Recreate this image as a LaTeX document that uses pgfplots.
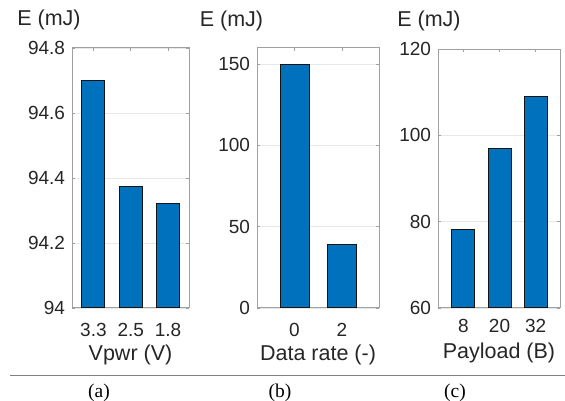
\documentclass[border=0pt]{standalone}
\usepackage{fontspec}
\setmainfont{Liberation Sans}
\newfontfamily\seriffont{Liberation Serif}
\usepackage{pgfplots}
\pgfplotsset{compat=1.18}
\definecolor{mblue}{RGB}{0,114,189}
\definecolor{axgray}{RGB}{160,160,160}
\definecolor{grdgray}{RGB}{232,232,232}
\definecolor{txt}{RGB}{38,38,38}
\pgfplotsset{
  myax/.style={
    scale only axis,
    anchor=south west,
    ybar,
    axis line style={axgray, line width=1bp},
    tick style={axgray, line width=0.8bp},
    major tick length=3bp,
    tick align=inside,
    ymajorgrids,
    grid style={grdgray, line width=0.8bp},
    xtick=data,
    /pgf/number format/assume math mode=true,
    tick label style={font=\fontsize{19bp}{22bp}\selectfont, text=txt},
    label style={font=\fontsize{21.5bp}{24bp}\selectfont, text=txt},
    yticklabel style={anchor=east, xshift=-3.5bp},
    xticklabel style={anchor=center, yshift=-22bp},
    xlabel style={at={(axis description cs:0.5,0)}, anchor=base, yshift=-52bp},
    scaled y ticks=false,
  },
  mybar/.style={fill=mblue, draw={rgb,255:red,20;green,20;blue,20}, line width=1bp}
}
\begin{document}
\begin{tikzpicture}
\useasboundingbox (0,0) rectangle (565bp,401bp);
% (a)
\begin{axis}[myax, at={(72bp,93bp)}, width=117bp, height=260bp,
  xmin=0.427, xmax=3.56, ymin=94, ymax=94.8,
  ytick={94,94.2,94.4,94.6,94.8},
  yticklabels={94,94.2,94.4,94.6,94.8},
  xticklabels={3.3,2.5,1.8},
  bar width=23bp,
  xlabel={Vpwr (V)}, ylabel={E (mJ)},
  ylabel style={rotate=-90, at={(axis description cs:-0.197,1.0846)}, anchor=base}]
\addplot[mybar] coordinates {(1,94.70) (2,94.375) (3,94.32)};
\end{axis}
% (b)
\begin{axis}[myax, at={(257bp,93bp)}, width=122bp, height=260bp,
  xmin=0.21, xmax=2.78, ymin=0, ymax=159.84,
  ytick={0,50,100,150},
  xticklabels={0,2},
  bar width=29bp,
  xlabel={Data rate (-)}, ylabel={E (mJ)},
  ylabel style={rotate=-90, at={(axis description cs:-0.209,1.0846)}, anchor=base}]
\addplot[mybar] coordinates {(1,150) (2,39)};
\end{axis}
% (c)
\begin{axis}[myax, at={(438bp,93bp)}, width=122bp, height=259bp,
  xmin=0.295, xmax=3.675, ymin=60, ymax=120,
  ytick={60,80,100,120},
  xticklabels={8,20,32},
  bar width=23bp,
  xticklabel style={yshift=4bp},
  xlabel style={yshift=2bp},
  xlabel={Payload (B)}, ylabel={E (mJ)},
  ylabel style={rotate=-90, at={(axis description cs:-0.074,1.085)}, anchor=base}]
\addplot[mybar] coordinates {(1,78.1) (2,96.9) (3,108.9)};
\end{axis}
\draw[gray, line width=0.8bp] (10bp,26bp) -- (565bp,26bp);
\node[font=\seriffont\fontsize{19.5bp}{22bp}\selectfont] at (99bp,8bp) {(a)};
\node[font=\seriffont\fontsize{19.5bp}{22bp}\selectfont] at (280bp,8bp) {(b)};
\node[font=\seriffont\fontsize{19.5bp}{22bp}\selectfont] at (455bp,8bp) {(c)};
\end{tikzpicture}
\end{document}
